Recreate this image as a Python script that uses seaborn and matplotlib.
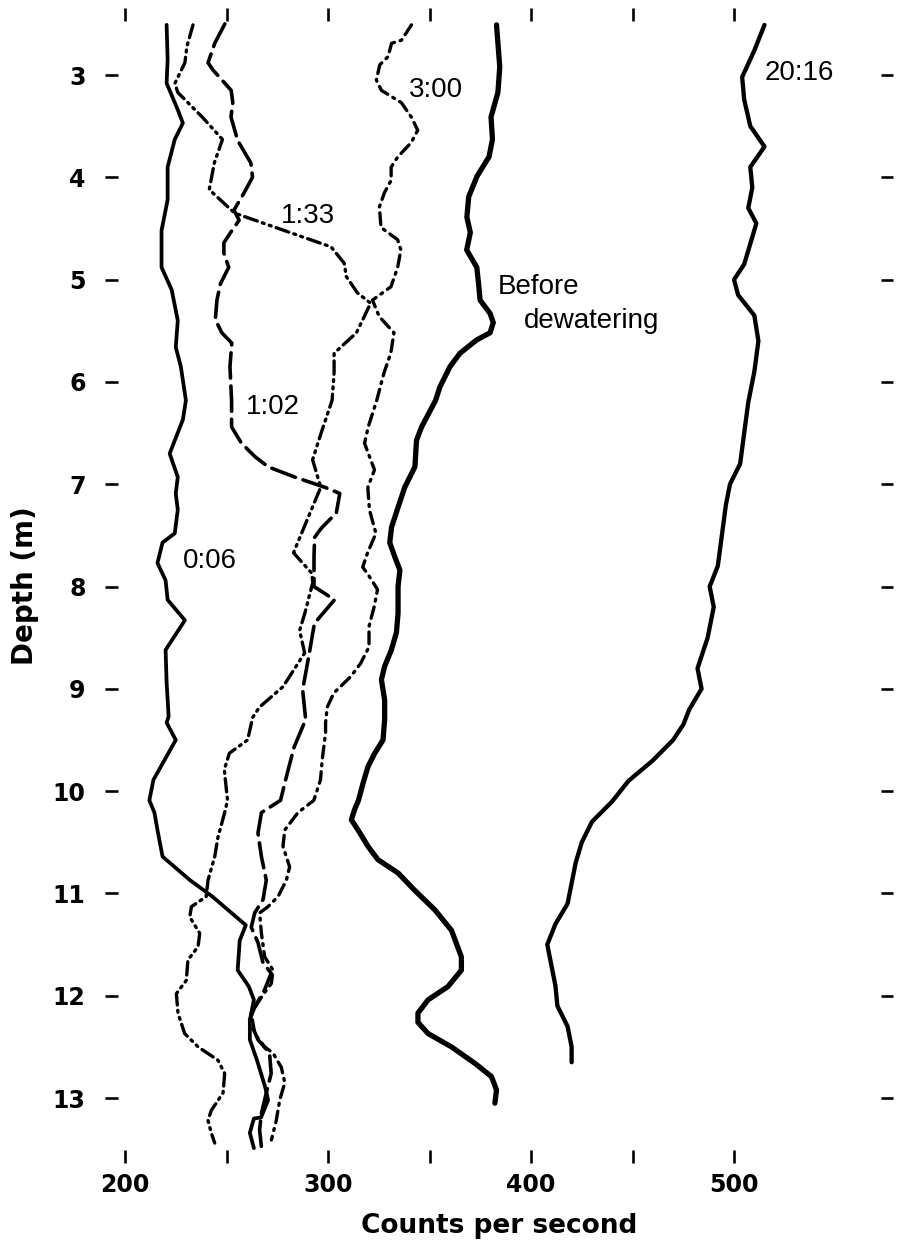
import matplotlib
matplotlib.use("Agg")
import matplotlib.pyplot as plt
import seaborn as sns

# Gamma-probe count rate profiles versus depth, one per elapsed time
depth_006 = [2.51, 2.85, 3.08, 3.34, 3.47, 3.63, 3.9, 4.22, 4.52, 4.88, 5.1, 5.4, 5.66, 5.85,
             6.18, 6.37, 6.7, 6.93, 7.09, 7.25, 7.48, 7.57, 7.77, 7.94, 8.13, 8.33, 8.62, 8.94,
             9.27, 9.33, 9.5, 9.89, 10.09, 10.21, 10.38, 10.64, 10.87, 11.03, 11.31, 11.46,
             11.75, 11.91, 12.04, 12.24, 12.43, 12.63, 12.89, 13.02, 13.19, 13.2, 13.34, 13.49]
cps_006 = [220.5, 221, 220.5, 226, 228.5, 224.5, 221, 221, 218, 218, 223, 226, 225, 227.5,
           230, 228.5, 222, 226, 225, 226, 224.5, 218.5, 216, 220, 221, 229.5, 220, 220.5,
           221.5, 220.5, 225, 214, 212, 214.5, 216, 218.5, 232, 243, 259.5, 256.5,
           255.5, 261, 263.5, 261.5, 261.5, 265, 269, 270.5, 267, 263.5, 261.5, 263.5]

depth_102 = [2.5, 2.69, 2.88, 2.95, 3.15, 3.27, 3.41, 3.64, 3.86, 4.0, 4.15, 4.32, 4.42, 4.54,
             4.64, 4.74, 4.88, 5.04, 5.2, 5.39, 5.52, 5.62, 5.85, 6.18, 6.44, 6.6, 6.73, 6.83,
             6.93, 7.03, 7.09, 7.28, 7.43, 7.52, 7.71, 8.0, 8.13, 8.36, 8.65, 9.01, 9.3, 9.57,
             9.82, 10.09, 10.21, 10.41, 10.64, 10.87, 11.06, 11.19, 11.33, 11.48, 11.68, 11.78,
             11.94, 12.11, 12.24, 12.43, 12.56, 12.76, 12.95, 13.15, 13.31, 13.48]
cps_102 = [249.2, 244.2, 240.9, 243.3, 252.3, 253.1, 252.2, 255.5, 262, 262.8, 258.7, 253.7,
           256.2, 252, 248.7, 248.7, 251.1, 247, 245.3, 244.5, 247.7, 252.6, 251.7, 252.5,
           252.5, 257.4, 264, 270.5, 283.6, 298.4, 305.8, 304.1, 296.7, 293.4, 293.1, 293.1,
           303.2, 293.3, 290.8, 287.5, 289, 283.3, 280, 276.6, 267.2, 265.5, 267.2, 269.6, 268,
           263.9, 262.2, 265.5, 268, 272, 268.8, 263.9, 261.4, 265.5, 271.2, 272, 269.6, 267.2,
           266.3, 267.2]

depth_133 = [2.51, 2.72, 2.88, 3.08, 3.17, 3.41, 3.63, 3.86, 4.12, 4.35, 4.51, 4.68, 4.84, 4.97,
             5.13, 5.23, 5.52, 5.72, 5.91, 6.18, 6.5, 6.76, 7.03, 7.35, 7.67, 7.87, 7.96, 8.26,
             8.43, 8.65, 8.98, 9.18, 9.28, 9.5, 9.63, 9.79, 10.09, 10.21, 10.45, 10.64, 10.87,
             11.03, 11.13, 11.23, 11.39, 11.52, 11.65, 11.85, 11.98, 12.17, 12.37, 12.5, 12.63,
             12.76, 12.95, 13.12, 13.22, 13.34, 13.44]
cps_133 = [233.5, 230.5, 229.5, 224.6, 226, 238, 248, 244, 241.5, 254, 277, 301.5, 308, 309,
           314.5, 321, 314, 303, 303, 302, 296.6, 292.4, 296.4, 289.7, 283, 292, 292.5, 288.6,
           286, 288.5, 277.8, 266.2, 262.9, 260.4, 251.4, 248.9, 250.5, 249.1, 245.8, 244.2,
           240.9, 240, 232.7, 231.9, 236.8, 236, 231, 230.2, 225.3, 226.1, 229.4, 236, 245.8,
           249.1, 248.3, 242.5, 240.9, 242.5, 244.2]

depth_300 = [2.51, 2.66, 2.69, 2.82, 2.9, 3.05, 3.15, 3.27, 3.41, 3.54, 3.66, 3.8, 3.9, 4.03,
             4.15, 4.29, 4.49, 4.61, 4.71, 4.88, 5.07, 5.2, 5.36, 5.52, 5.72, 5.91, 6.18, 6.44,
             6.6, 6.86, 7.03, 7.25, 7.48, 7.67, 7.81, 7.9, 8.03, 8.2, 8.39, 8.59, 8.75, 8.88,
             9.04, 9.18, 9.33, 9.43, 9.7, 9.89, 10.09, 10.21, 10.38, 10.54, 10.74, 10.87, 11.03,
             11.13, 11.19, 11.39, 11.62, 11.75, 11.88, 11.99, 12.17, 12.37, 12.5, 12.56, 12.7,
             12.85, 13.02, 13.22, 13.41]
cps_300 = [341.1, 336.2, 331.3, 329.6, 325.5, 323.8, 326.3, 336.1, 341, 344.2, 341, 334.4,
           331.1, 331.1, 327.8, 325.3, 326.1, 334.3, 335.9, 334.3, 331, 321.9, 325.2, 332.5,
           330.9, 327.6, 324, 319.8, 318, 322.9, 319.6, 320.4, 323.6, 319.5, 317.1, 320.3,
           324.4, 322.7, 320.2, 320.2, 316.1, 311.2, 302.9, 299.6, 298.8, 298.8, 297.1, 296.3,
           293, 285.2, 278.7, 277.8, 281.1, 279.5, 275.4, 270.4, 266.3, 267.2, 268.8, 272.9,
           272.1, 268, 262.2, 263.9, 268.8, 272.9, 277, 278.7, 276.2, 274.5, 272.1]

depth_before = [2.51, 2.92, 3.17, 3.41, 3.63, 3.8, 3.99, 4.19, 4.39, 4.54, 4.71, 4.88, 5.03,
                5.2, 5.33, 5.42, 5.52, 5.59, 5.72, 5.85, 6.05, 6.18, 6.44, 6.57, 6.83, 7.03,
                7.22, 7.42, 7.57, 7.71, 7.84, 8.0, 8.26, 8.45, 8.62, 8.78, 8.91, 9.11, 9.3,
                9.5, 9.63, 9.76, 9.92, 10.09, 10.18, 10.28, 10.38, 10.54, 10.67, 10.8, 10.97,
                11.16, 11.36, 11.62, 11.75, 11.91, 12.04, 12.17, 12.26, 12.37, 12.5, 12.66,
                12.79, 12.92, 13.05]
cps_before = [383, 384.6, 383.7, 380.3, 381, 379.3, 373.4, 369.3, 368.4, 370.1, 368.3, 373.3,
              374.1, 374.9, 379.8, 381.4, 379.8, 373.2, 365, 360.1, 355.1, 353, 346.1, 343.6,
              342.8, 337.8, 334.6, 331.3, 330.4, 332.9, 335.4, 334.5, 334.5, 333.7, 331.2,
              327.9, 326.3, 327.9, 327.9, 327.1, 323, 319.7, 317.3, 315, 313.1, 311.5, 314.8,
              319.7, 324.6, 334.5, 342.7, 352.6, 360.8, 365.7, 365.7, 359.1, 349.3, 344.3,
              344.3, 349.3, 360.8, 372.3, 380.5, 383, 382.2]

depth_2016 = [2.51, 2.76, 3.02, 3.24, 3.5, 3.7, 3.9, 4.1, 4.3, 4.45, 4.65, 4.85, 5.0, 5.15,
              5.35, 5.6, 5.9, 6.2, 6.5, 6.8, 7.0, 7.2, 7.5, 7.8, 8.0, 8.2, 8.5, 8.8, 9.0, 9.2,
              9.35, 9.5, 9.7, 9.9, 10.1, 10.3, 10.5, 10.7, 10.9, 11.1, 11.3, 11.5, 11.7, 11.9,
              12.1, 12.3, 12.5, 12.65]
cps_2016 = [515, 510, 504, 505, 508, 515, 508, 509, 507, 511, 508, 505, 500, 502, 510, 512,
            510, 507, 505, 503, 498, 496, 494, 492, 488, 490, 487, 482, 484, 478, 475, 470,
            460, 448, 440, 430, 425, 422, 420, 418, 412, 408, 410, 412, 413, 418, 420, 420]

x_ticks = [200, 250, 300, 350, 400, 450, 500]
x_tick_labels = ["200", "", "300", "", "400", "", "500"]
y_ticks = [3, 4, 5, 6, 7, 8, 9, 10, 11, 12, 13]
y_tick_labels = [str(t) for t in y_ticks]

sns.set_theme(style="white")
plt.rcParams["font.family"] = ["DejaVu Sans"]

fig = plt.figure(figsize=(8.97, 12.47), dpi=100)
ax = fig.add_axes([105 / 897, 1 - 1163 / 1247, (893 - 105) / 897, (1163 - 8) / 1247])

ink = "black"
curves = [
    (cps_006, depth_006, 2.7, "-"),
    (cps_102, depth_102, 2.6, (0, (7, 2.2))),
    (cps_133, depth_133, 2.4, (0, (4, 1.6, 0.6, 1.6, 0.6, 1.6))),
    (cps_300, depth_300, 2.4, (0, (3.5, 1.8, 0.6, 1.8))),
    (cps_before, depth_before, 3.8, "-"),
    (cps_2016, depth_2016, 3.1, "-"),
]
for xs, ys, lw, ls in curves:
    sns.lineplot(x=xs, y=ys, sort=False, estimator=None, orient="y", ax=ax,
                 color=ink, linewidth=lw, linestyle=ls,
                 solid_capstyle="round", solid_joinstyle="round",
                 dash_capstyle="round")

ax.set_xlim(190.15, 578.3)
ax.set_ylim(13.635, 2.345)
for side in ["left", "right", "top", "bottom"]:
    ax.spines[side].set_visible(False)

label_font = dict(family="DejaVu Sans", weight="bold", size=17)
ax.set_xticks(x_ticks)
ax.set_xticklabels(x_tick_labels, fontdict=label_font)
ax.set_yticks(y_ticks)
ax.set_yticklabels(y_tick_labels, fontdict=label_font)
ax.tick_params(axis="x", which="major", direction="in", length=9.5, width=1.9,
               top=True, bottom=True, pad=7, colors=ink)
ax.tick_params(axis="y", which="major", direction="in", length=9, width=1.9,
               left=True, right=True, pad=14, colors=ink)

ax.set_xlabel("Counts per second", family="DejaVu Sans", weight="bold", size=19,
              labelpad=12, color=ink)
ax.set_ylabel("Depth (m)", family="DejaVu Sans", weight="bold", size=20,
              labelpad=10, color=ink)

note_font = dict(family="Liberation Sans", size=20, color=ink)
ax.text(353, 3.15, "3:00", ha="center", va="center", **note_font)
ax.text(290, 4.38, "1:33", ha="center", va="center", **note_font)
ax.text(273, 6.25, "1:02", ha="center", va="center", **note_font)
ax.text(241.6, 7.75, "0:06", ha="center", va="center", **note_font)
ax.text(532, 2.98, "20:16", ha="center", va="center", **note_font)
ax.text(383.5, 5.07, "Before", ha="left", va="center", **note_font)
ax.text(396.5, 5.4, "dewatering", ha="left", va="center", **note_font)

fig.savefig("out.png", dpi=100, facecolor="white")
